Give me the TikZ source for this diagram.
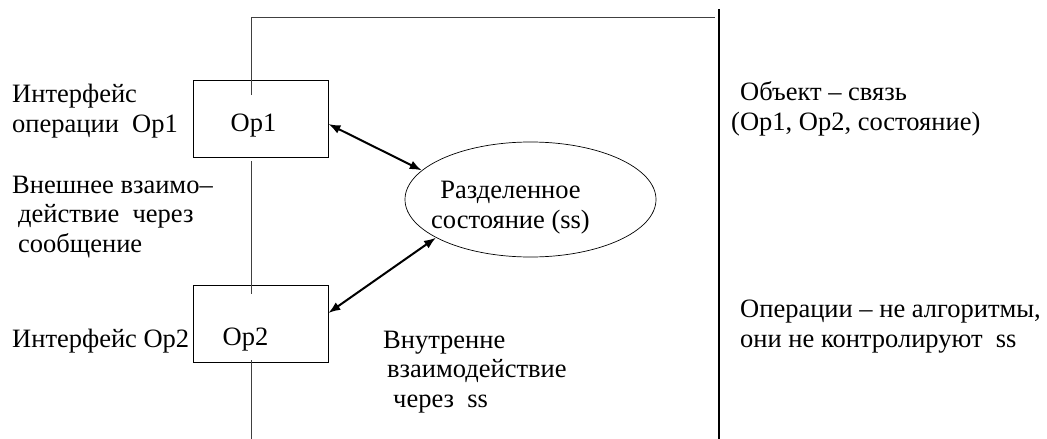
\documentclass[tikz,border=0pt]{standalone}
\usepackage{fontspec}
\setmainfont{Liberation Serif}
\usepackage{tikz}
\usetikzlibrary{positioning,arrows.meta,calc,shapes.geometric}

\begin{document}
\begin{tikzpicture}[
      x=1pt, y=-1pt,
      font=\fontsize{26.5}{29.5}\selectfont,
      every node/.style={align=left},
      opbox/.style={
        draw, rectangle, minimum width=135pt, minimum height=77pt,
        inner sep=0pt, line width=0.8pt,
      },
      state/.style={
        draw, ellipse, minimum width=251pt, minimum height=115pt,
        inner sep=0pt, line width=0.7pt,
      },
      note/.style={anchor=base west, inner sep=0pt},
      link/.style={line width=0.8pt, draw=black!75},
      border/.style={line width=1.8pt},
      access/.style={{Latex[length=12pt,width=9pt]}-{Latex[length=12pt,width=9pt]}, line width=2pt},
    ]
    \useasboundingbox (0,0) rectangle (1047,439);

    % Operations and the shared state
    \node[opbox, label={[xshift=-7pt, yshift=-7pt]center:Op1}] (op1) at (260.5,118.5) {};
    \node[opbox, label={[xshift=-15pt, yshift=-16pt]center:Op2}] (op2) at (260.5,323.5) {};
    \node[state, label={[xshift=-20pt, yshift=-8pt, align=center]center:Разделенное\\состояние (ss)}] (ss) at (530.5,199.5) {};

    % Object boundary
    \coordinate (topL)  at (251,17);
    \coordinate (topR)  at (715,17);
    \coordinate (in1)   at (251,95);
    \coordinate (out1)  at (251,161);
    \coordinate (in2)   at (251,294);
    \coordinate (out2)  at (251,360);
    \coordinate (endL)  at (251,439);
    \coordinate (sepT)  at (719,9);
    \coordinate (sepB)  at (719,439);

    \draw[link] (in1) -- (topL) -- (topR);
    \draw[link] (out1) -- (in2);
    \draw[link] (out2) -- (endL);
    \draw[border] (sepT) -- (sepB);

    % Access to the shared state
    \draw[access] ($(op1.east)+(0,5.5)$) -- (ss.165);
    \draw[access] ($(op2.east)+(0,-10.5)$) -- (ss.202);

    % Left notes (anchored at the last line)
    \node[note] (if1) at (12,132) {Интерфейс\\операции\ \ Op1};
    \node[note] (ext) at (12,252) {Внешнее взаимо–\\\hspace*{6pt}действие\ \ через\\\hspace*{6pt}сообщение};
    \node[note] (if2) at (12,347) {Интерфейс Op2};

    % Inner note
    \node[note] (inner) at (383,407) {Внутренне\\\hspace*{4pt}взаимодействие\\\hspace*{10pt}через\ \ ss};

    % Right notes
    \node[note] (obj) at (740,130) {Объект – связь\\\hspace*{-9pt}(Op1, Op2, состояние)};
    \node[note] (ops) at (740,347) {Операции – не алгоритмы,\\они не контролируют\ \ ss};

  \end{tikzpicture}
\end{document}
